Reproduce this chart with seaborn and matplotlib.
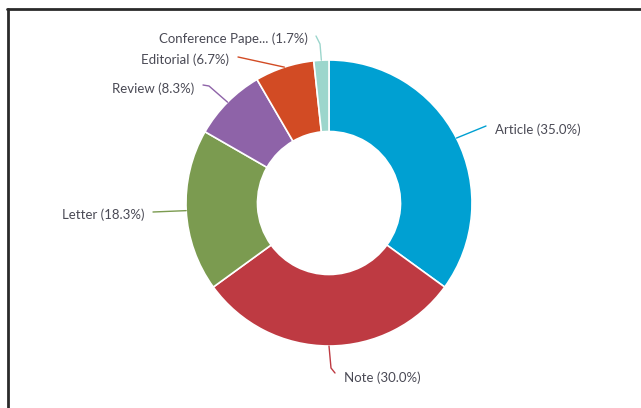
import matplotlib
matplotlib.use("Agg")
import matplotlib.pyplot as plt
import seaborn as sns
import numpy as np

# ---- data ----
categories = ["Article", "Note", "Letter", "Review", "Editorial", "Conference Pape..."]
percent = [35.0, 30.0, 18.3, 8.3, 6.7, 1.7]
colors = ["#00A0D2", "#BE3A42", "#7B9B50", "#8E63A8", "#D24B24", "#9CD6CC"]

# ---- layout (pixel positions of label anchors, not data) ----
W, H = 641, 408
CX, CY, R = 329, 203, 143
label_layout = [  # (text x, text y, ha, connector points from wedge to label)
    (495, 130, "left", [(486, 126)]),
    (344, 378, "left", [(331, 368), (335, 373)]),
    (144, 215, "right", [(153, 212)]),
    (194, 89, "right", [(209, 86), (203, 85)]),
    (229, 60, "right", [(238, 57)]),
    (308, 39, "right", [(320, 44), (316, 36)]),
]

def px2d(px, py):
    return (px - CX) / R, (CY - py) / R

sns.set_theme(style="white")
plt.rcParams["font.family"] = ["Lato", "DejaVu Sans"]

fig = plt.figure(figsize=(W / 100, H / 100), dpi=100)
ax = fig.add_axes([0, 0, 1, 1])
wedges, _ = ax.pie(percent, colors=colors, startangle=90, counterclock=False,
                   radius=1.0,
                   wedgeprops=dict(width=0.5, edgecolor="white", linewidth=1.2))
ax.set_aspect("auto")
x0, y1 = px2d(0, 0)
x1, y0 = px2d(W, H)
ax.set_xlim(x0, x1)
ax.set_ylim(y0, y1)
ax.axis("off")

for w, cat, p, col, lay in zip(wedges, categories, percent, colors, label_layout):
    ang = np.deg2rad((w.theta1 + w.theta2) / 2)
    ex, ey = np.cos(ang) * 1.0, np.sin(ang) * 1.0
    tx, ty, ha, pts = lay
    xs, ys = [ex], [ey]
    for (lx, ly) in pts:
        lxd, lyd = px2d(lx, ly)
        xs.append(lxd)
        ys.append(lyd)
    ax.plot(xs, ys, color=col, lw=1.0, solid_capstyle="round", solid_joinstyle="round")
    txd, tyd = px2d(tx, ty)
    ax.text(txd, tyd, f"{cat} ({p:.1f}%)", ha=ha, va="center",
            fontsize=9.5, color="#4a4a55")

# frame lines (top and left)
fig.add_artist(plt.Line2D([7.5 / W, 7.5 / W], [0, 1 - 8.5 / H], color="#2a2a2a", lw=2,
                          transform=fig.transFigure))
fig.add_artist(plt.Line2D([6.5 / W, 1], [1 - 8.5 / H, 1 - 8.5 / H], color="#2a2a2a", lw=2,
                          transform=fig.transFigure))

fig.savefig("out.png", dpi=100, facecolor="white")
